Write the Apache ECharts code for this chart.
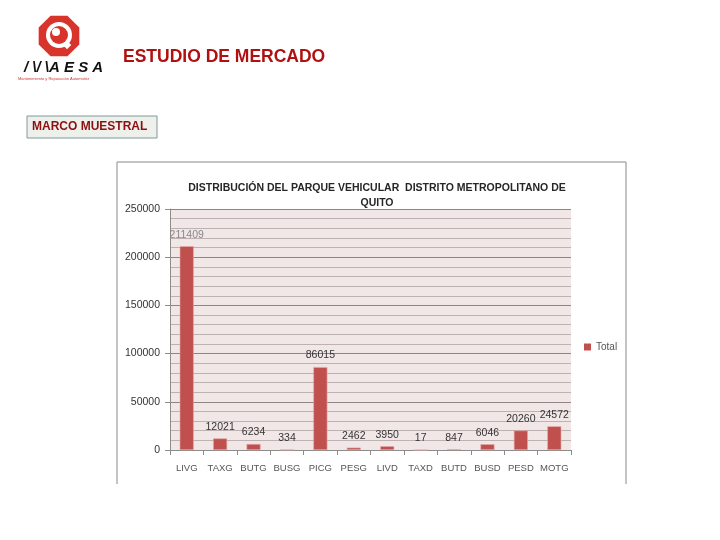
<!DOCTYPE html>
<html><head><meta charset="utf-8">
<script src="https://cdn.jsdelivr.net/npm/echarts@6/dist/echarts.min.js"></script>
<style>html,body{margin:0;padding:0;background:#fff}#c{width:720px;height:540px}</style>
</head><body><div id="c"></div>
<script>
const categories = ['LIVG','TAXG','BUTG','BUSG','PICG','PESG','LIVD','TAXD','BUTD','BUSD','PESD','MOTG'];
const totals = [211409, 12021, 6234, 334, 86015, 2462, 3950, 17, 847, 6046, 20260, 24572];
const yTicks = [0, 50000, 100000, 150000, 200000, 250000];

const chart = echarts.init(document.getElementById('c'), null, {renderer:'canvas'});
const FONT = 'Liberation Sans';
function octagon(cx, cy, r){
  const pts=[];
  for(let i=0;i<8;i++){const a=Math.PI/8+i*Math.PI/4;pts.push([cx+r*Math.cos(a),cy+r*Math.sin(a)]);}
  return pts;
}
chart.setOption({
  animation:false,
  textStyle:{fontFamily:FONT},
  title:[{
    text:'DISTRIBUCIÓN DEL PARQUE VEHICULAR  DISTRITO METROPOLITANO DE\nQUITO',
    left:372, top:176, textAlign:'center',
    textStyle:{fontSize:10.5, fontWeight:'bold', color:'#262626', lineHeight:15, fontFamily:FONT}
  }],
  legend:{
    data:['Total'], left:579, top:337, itemWidth:7, itemHeight:7, itemGap:3,
    icon:'rect', itemStyle:{borderWidth:0},
    textStyle:{fontSize:10, color:'#555', fontFamily:FONT}
  },
  grid:{left:170, right:149, top:209, bottom:90, backgroundColor:'#f2e7e7', show:true, borderWidth:0},
  xAxis:{
    type:'category', data:categories,
    axisLine:{lineStyle:{color:'#8c8c8c'}},
    axisTick:{show:true, alignWithLabel:false, length:5, lineStyle:{color:'#8c8c8c'}},
    axisLabel:{interval:0, fontSize:9.5, color:'#555', margin:13, fontFamily:FONT}
  },
  yAxis:{
    type:'value', min:yTicks[0], max:yTicks[yTicks.length-1], interval:50000,
    axisLine:{show:true, lineStyle:{color:'#8c8c8c'}},
    axisTick:{show:true, length:5, lineStyle:{color:'#8c8c8c'}},
    axisLabel:{fontSize:10.5, color:'#333', margin:10, fontFamily:FONT, formatter:v=>String(v)},
    splitLine:{lineStyle:{color:'#8f8585'}},
    minorTick:{show:false, splitNumber:5},
    minorSplitLine:{show:true, lineStyle:{color:'#bdb1b1'}}
  },
  series:[{
    name:'Total', type:'bar', data:totals.map((v,i)=>i===0?{value:v,label:{color:'#888'}}:v),
    barWidth:14,
    itemStyle:{color:'#c0504d', borderColor:'#e8a8a6', borderWidth:0.6},
    label:{show:true, position:'top', distance:6, fontSize:10.5, color:'#333', fontFamily:FONT}
  }],
  graphic:[
    {type:'polyline', shape:{points:[[117,484],[117,162],[626,162],[626,484]]}, style:{stroke:'#8a8a8a', lineWidth:1, fill:null}},
    {type:'polygon', shape:{points:octagon(59,36,22)}, style:{fill:'#d8342b'}},
    {type:'circle', shape:{cx:59,cy:35,r:13}, style:{fill:'#fff'}},
    {type:'circle', shape:{cx:59,cy:35,r:9}, style:{fill:'#d8342b'}},
    {type:'circle', shape:{cx:56,cy:32,r:4}, style:{fill:'#fff'}},
    {type:'rect', shape:{x:64,y:42,width:6,height:6}, rotation:-Math.PI/4, originX:67, originY:45, style:{fill:'#fff'}},
    {type:'text', left:24, top:60, style:{text:'/ \\/ \\A E S A', font:'italic bold 15px "Liberation Sans"', fill:'#111'}},
    {type:'text', left:18, top:77, style:{text:'Mantenimiento y Reparación Automotriz', font:'4px "Liberation Sans"', fill:'#c33'}},
    {type:'text', left:123, top:48, style:{text:'ESTUDIO DE MERCADO', font:'bold 17.5px "Liberation Sans"', fill:'#b01010'}},
    {type:'rect', shape:{x:27,y:116,width:130,height:22}, style:{fill:'#eef0eb', stroke:'#7f9a9a', lineWidth:1}},
    {type:'text', left:32, top:121, style:{text:'MARCO MUESTRAL', font:'bold 12px "Liberation Sans"', fill:'#8b1010'}}
  ]
});
</script></body></html>
